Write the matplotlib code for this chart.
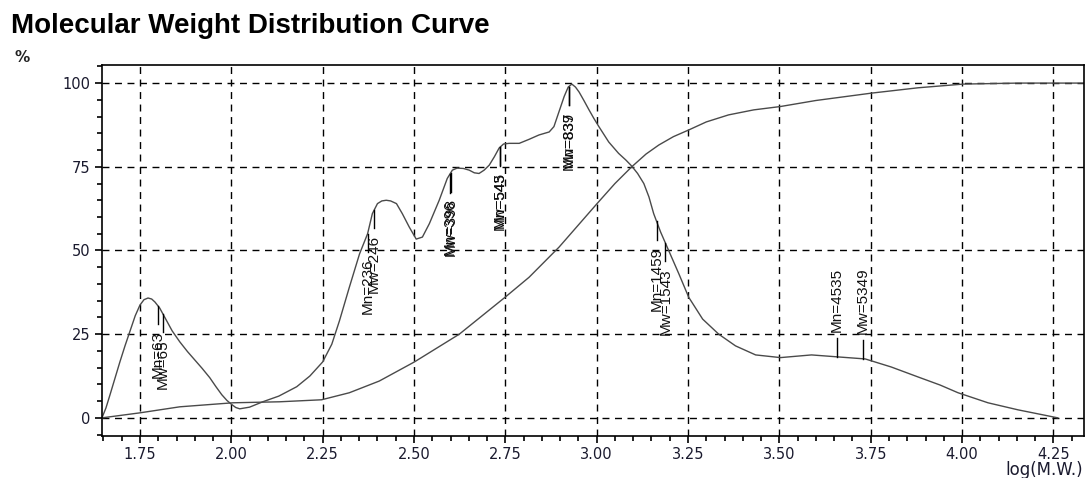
import numpy as np
import matplotlib
matplotlib.use("Agg")
import matplotlib.pyplot as plt
from matplotlib.ticker import MultipleLocator, FormatStrFormatter

# differential distribution curve (log M.W. vs %)
dist_x = [1.646, 1.657, 1.668, 1.695, 1.709, 1.723, 1.737, 1.750, 1.761, 1.772,
          1.782, 1.791, 1.804, 1.818, 1.838, 1.859, 1.880, 1.900, 1.920, 1.941,
          1.958, 1.974, 1.988, 2.001, 2.012, 2.023, 2.050, 2.086, 2.130, 2.179,
          2.215, 2.250, 2.275, 2.296, 2.323, 2.351, 2.373, 2.386, 2.400, 2.412,
          2.424, 2.436, 2.452, 2.468, 2.487, 2.506, 2.523, 2.542, 2.569, 2.591,
          2.605, 2.618, 2.635, 2.651, 2.665, 2.678, 2.692, 2.706, 2.720, 2.733,
          2.745, 2.760, 2.788, 2.815, 2.842, 2.870, 2.883, 2.897, 2.911, 2.922,
          2.932, 2.942, 2.952, 2.965, 2.979, 2.992, 3.006, 3.033, 3.060, 3.080,
          3.096, 3.112, 3.129, 3.143, 3.156, 3.175, 3.197, 3.225, 3.252, 3.290,
          3.334, 3.380, 3.435, 3.503, 3.588, 3.661, 3.735, 3.806, 3.880, 3.940,
          3.989, 4.071, 4.153, 4.235, 4.262]
dist_y = [0.0, 3.0, 6.9, 16.7, 21.5, 26.0, 30.5, 33.7, 35.3, 35.8,
          35.5, 34.6, 32.8, 30.0, 26.0, 22.7, 19.8, 17.3, 14.8, 12.0,
          9.3, 6.9, 5.2, 4.0, 3.1, 2.7, 3.2, 4.8, 6.5, 9.3,
          12.5, 16.7, 22.0, 29.0, 39.0, 49.0, 55.0, 61.0, 64.0, 64.8,
          65.0, 64.8, 64.0, 61.0, 57.0, 53.4, 54.0, 58.0, 65.0, 71.5,
          74.0, 74.6, 74.5, 74.0, 73.2, 73.0, 74.0, 75.5, 78.0, 80.6,
          81.8, 82.0, 82.0, 83.2, 84.5, 85.4, 87.0, 91.5, 96.0, 98.8,
          99.7, 98.8, 97.3, 94.8, 92.0, 89.5, 87.0, 82.4, 79.0, 77.0,
          75.2, 73.0, 70.0, 66.0, 61.0, 55.5, 50.0, 43.0, 36.0, 29.5,
          25.0, 21.5, 18.8, 18.0, 18.8, 18.2, 17.6, 15.2, 12.2, 9.8,
          7.5, 4.5, 2.4, 0.6, 0.0]

# cumulative curve
cum_x = [1.646, 1.750, 1.859, 2.004, 2.132, 2.247, 2.323, 2.405, 2.501, 2.624,
         2.749, 2.815, 2.897, 3.001, 3.050, 3.096, 3.135, 3.170, 3.210, 3.252,
         3.300, 3.361, 3.430, 3.503, 3.600, 3.752, 3.880, 4.003, 4.153, 4.333]
cum_y = [0.0, 1.5, 3.3, 4.5, 4.8, 5.4, 7.5, 11.0, 16.7, 25.0,
         36.0, 42.0, 51.0, 64.0, 70.0, 75.0, 78.8, 81.5, 84.0, 86.0,
         88.4, 90.5, 92.0, 93.0, 94.8, 97.0, 98.6, 99.7, 100.0, 100.0]

# peak averages: label, log(M.W.), drawn above the curve?
peak_labels = ["Mn=63", "Mw=65", "Mn=236", "Mw=246", "Mn=396", "Mw=398",
               "Mn=543", "Mw=545", "Mn=837", "Mw=839", "Mn=1459", "Mw=1543",
               "Mn=4535", "Mw=5349"]
peak_logmw = [1.799, 1.813, 2.373, 2.391, 2.598, 2.600,
              2.735, 2.736, 2.923, 2.924, 3.164, 3.188,
              3.657, 3.728]
peak_above = [False] * 12 + [True, True]

fig = plt.figure(figsize=(10.86, 4.78), dpi=100)
ax = fig.add_axes([0.0939, 0.088, 0.904, 0.776])

ax.plot(dist_x, dist_y, color="#4a4a4a", lw=1.0)
ax.plot(cum_x, cum_y, color="#4a4a4a", lw=1.0)

for lab, lx, up in zip(peak_labels, peak_logmw, peak_above):
    yc = np.interp(lx, dist_x, dist_y)
    if up:
        ax.plot([lx, lx], [yc, yc + 5.5], color="black", lw=1.0)
        ax.text(lx, yc + 7.5, lab, rotation=90, ha="center", va="bottom",
                fontsize=11, family="Liberation Sans", color="#111111")
    else:
        ax.plot([lx, lx], [yc, yc - 5.5], color="black", lw=1.0)
        ax.text(lx, yc - 7.5, lab, rotation=90, ha="center", va="top",
                fontsize=11, family="Liberation Sans", color="#111111")

ax.set_xlim(1.646, 4.333)
ax.set_ylim(-5.4, 105.4)
ax.xaxis.set_major_locator(MultipleLocator(0.25))
ax.xaxis.set_minor_locator(MultipleLocator(0.05))
ax.yaxis.set_major_locator(MultipleLocator(25))
ax.yaxis.set_minor_locator(MultipleLocator(5))
ax.xaxis.set_major_formatter(FormatStrFormatter("%.2f"))
ax.tick_params(which="major", direction="out", length=5, width=1.2,
               labelsize=10.5, labelcolor="#1a1a2e", pad=3)
ax.tick_params(which="minor", direction="out", length=3.5, width=1.2)
ax.grid(True, which="major", color="black", ls=(0, (5, 4)), lw=1.0)
for s in ax.spines.values():
    s.set_linewidth(1.2)

fig.text(0.010, 0.945, "Molecular Weight Distribution Curve", fontsize=20,
         fontweight="bold", family="Liberation Sans", ha="left", va="center")
fig.text(0.013, 0.880, "%", fontsize=11, fontweight="bold", ha="left", va="center",
         color="#222222")
fig.text(0.997, 0.016, "log(M.W.)", fontsize=12, ha="right", va="center",
         color="#1a1a2e")

fig.savefig("out.png", dpi=100)
